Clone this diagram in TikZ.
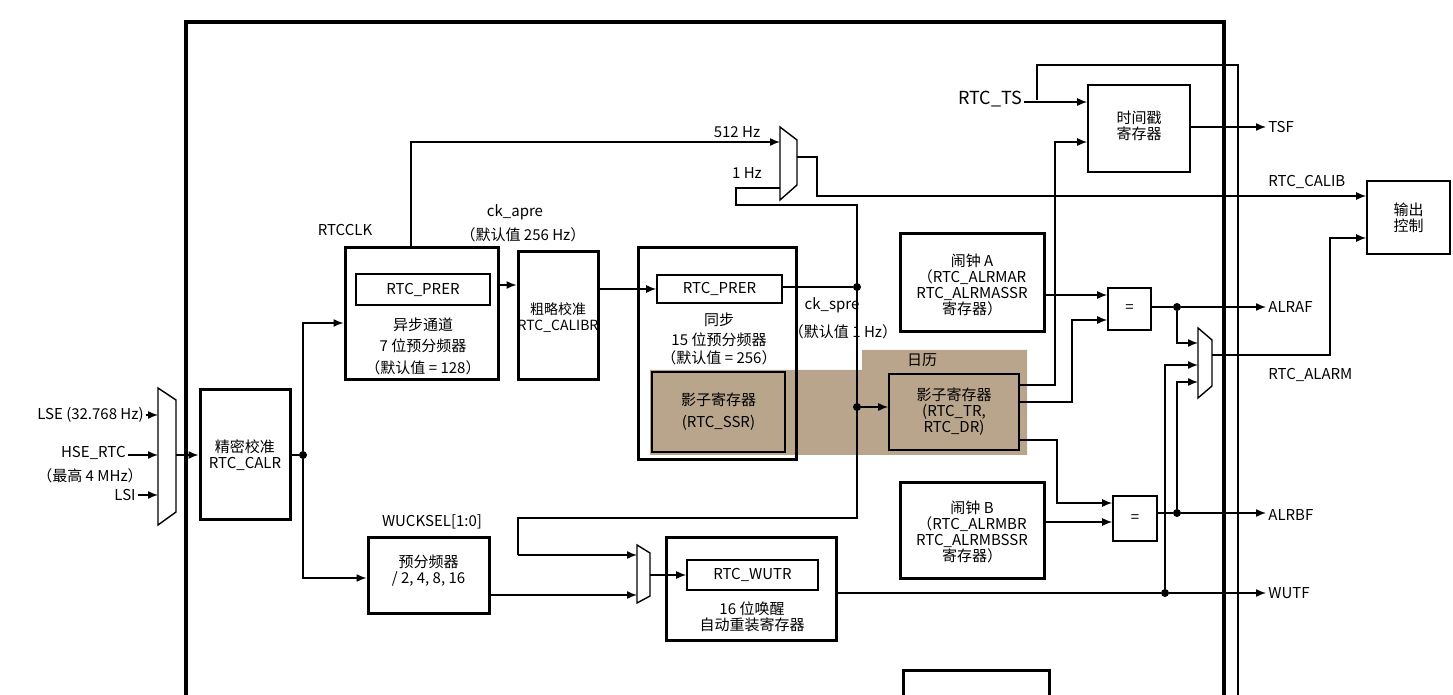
\documentclass[tikz,border=0pt]{standalone}
\usepackage{fontspec}
\setmainfont{Noto Sans CJK SC}
\usetikzlibrary{positioning}
\usetikzlibrary{arrows.meta}

\begin{document}
\begin{tikzpicture}[x=0.5pt, y=-0.5pt, font=\fontsize{7.5}{8}\selectfont]
  \tikzstyle{block}=[draw, line width=1.5pt, inner sep=0pt]
  \tikzstyle{reg}=[draw, line width=0.8pt, inner sep=0pt]
  \tikzstyle{txt}=[inner sep=1pt, align=center]
  \tikzstyle{connect}=[-{Latex[length=5pt,width=4pt]}, line width=0.7pt]
  \tikzstyle{wire}=[line width=0.7pt]
  \tikzstyle{dot}=[circle, fill, inner sep=0pt, minimum size=4pt]
  \definecolor{calshade}{RGB}{184,165,140}

  \useasboundingbox (0,0) rectangle (1453,695);
  \clip (0,0) rectangle (1453,695);

  % calendar shading
  \fill[calshade] (650,370) -- (862,370) -- (862,350) -- (1027,350) -- (1027,455) -- (650,455) -- cycle;

  % frame
  \draw[line width=2pt] (186,700) -- (186,22) -- (1224,22) -- (1224,700);
  \draw[wire] (1037,100) -- (1037,65) -- (1238,65) -- (1238,700);
  \draw[line width=1.5pt] (903,700) -- (903,670) -- (1049,670) -- (1049,700);

  % blocks
  \node[block, minimum width=45pt, minimum height=65pt] (calr) at (245,455) {};
  \node[block, minimum width=76.5pt, minimum height=66pt] (async) at (421.5,314) {};
  \node[reg, minimum width=67pt, minimum height=15.5pt] (aprer) at (423,289.5) {RTC\_PRER};
  \node[block, minimum width=40pt, minimum height=64pt] (coarse) at (558,316) {};
  \node[block, minimum width=79pt, minimum height=106pt] (sync) at (717,354) {};
  \node[reg, minimum width=62.5pt, minimum height=14pt] (sprer) at (719.5,289) {RTC\_PRER};
  \node[reg, fill=calshade, minimum width=66.5pt, minimum height=40pt] (ssr) at (718.5,412) {};
  \node[reg, minimum width=65pt, minimum height=38pt] (shadow) at (954,412) {};
  \node[reg, minimum width=51pt, minimum height=43.5pt] (tsreg) at (1139,128.5) {};
  \node[reg, minimum width=41.5pt, minimum height=36.5pt] (outctl) at (1408.5,217.5) {};
  \node[block, minimum width=72pt, minimum height=49pt] (alarma) at (972,283) {};
  \node[reg, minimum width=21.5pt, minimum height=21pt] (eqa) at (1129.5,309) {=};
  \node[block, minimum width=72pt, minimum height=47.5pt] (alarmb) at (972,530.5) {};
  \node[reg, minimum width=22pt, minimum height=22.5pt] (eqb) at (1135,518.5) {=};
  \node[block, minimum width=60.5pt, minimum height=37.5pt] (presc) at (428.5,575.5) {};
  \node[block, minimum width=85pt, minimum height=51pt] (wutr) at (751,589) {};
  \node[reg, minimum width=65.5pt, minimum height=15pt] (wutrreg) at (752.5,575) {RTC\_WUTR};

  % block texts
  \node[txt] (calrtxt) at (245,455) {精密校准\\RTC\_CALR};
  \foreach \y/\t in {325/异步通道, 346/7 位预分频器, 368/（默认值 = 128）}
    \node[txt] at (423,\y) {\t};
  \node[txt, font=\fontsize{7}{8}\selectfont] (coarsetxt) at (558,318) {粗略校准\\RTC\_CALIBR};
  \foreach \y/\t in {320/同步, 340/15 位预分频器, 358/（默认值 = 256）}
    \node[txt] at (719,\y) {\t};
  \node[txt] (ssrtxt) at (718.5,412) {影子寄存器\\[3pt](RTC\_SSR)};
  \node[txt] (shadowtxt) at (954,412) {影子寄存器\\(RTC\_TR,\\RTC\_DR)};
  \node[txt] (tstxt) at (1139,126) {时间戳\\寄存器};
  \node[txt] (outtxt) at (1408.5,218) {输出\\控制};
  \node[txt] (alarmatxt) at (972,285) {闹钟 A\\（RTC\_ALRMAR\\RTC\_ALRMASSR\\寄存器）};
  \node[txt] (alarmbtxt) at (972,532) {闹钟 B\\（RTC\_ALRMBR\\RTC\_ALRMBSSR\\寄存器）};
  \node[txt] (presctxt) at (428.5,571) {预分频器\\/ 2, 4, 8, 16};
  \node[txt] (wutrtxt) at (752,617) {16 位唤醒\\自动重装寄存器};

  % muxes
  \draw[wire] (158,388) -- (176,400) -- (176,512) -- (158,525) -- cycle;
  \draw[wire] (780,127) -- (797,140) -- (797,185) -- (780,200) -- cycle;
  \draw[wire] (637,545) -- (650,553) -- (650,596) -- (637,603) -- cycle;
  \draw[wire] (1198,328) -- (1212,340) -- (1212,386) -- (1198,398) -- cycle;

  % inputs
  \node[txt, anchor=east] (lse) at (146,415) {LSE (32.768 Hz)};
  \node[txt, anchor=east] (hse) at (128,453) {HSE\_RTC};
  \node[txt] (hsemax) at (90,476) {（最高 4 MHz）};
  \node[txt, anchor=east] (lsi) at (138,495) {LSI};
  \foreach \src/\y in {lse/415, hse/455, lsi/495}
    \draw[connect] (\src.east |- 0,\y) -- (158,\y);
  \draw[connect] (176,455) -- (calr.west |- 0,455);

  % labels
  \node[txt] (rtcclk) at (345,230) {RTCCLK};
  \node[txt] (ckapre) at (515,212) {ck\_apre};
  \node[txt] (ckapredef) at (523,235) {（默认值 256 Hz）};
  \node[txt] (f512) at (737,132) {512 Hz};
  \node[txt] (f1) at (747,173) {1 Hz};
  \node[txt] (ckspre) at (832,305) {ck\_spre};
  \node[txt] (cksprdef) at (843,332) {（默认值 1 Hz）};
  \node[txt] (rili) at (922,360) {日历};
  \node[txt] (wucksel) at (432,522) {WUCKSEL[1:0]};
  \node[txt, font=\fontsize{9}{10}\selectfont] (rtcts) at (990,99) {RTC\_TS};
  \node[txt, anchor=west] (tsf) at (1266,127) {TSF};
  \node[txt, anchor=west] (calib) at (1266,182) {RTC\_CALIB};
  \node[txt, anchor=west] (alraf) at (1266,307) {ALRAF};
  \node[txt, anchor=west] (alarm) at (1266,375) {RTC\_ALARM};
  \node[txt, anchor=west] (alrbf) at (1266,515) {ALRBF};
  \node[txt, anchor=west] (wutf) at (1266,593) {WUTF};

  % clock path
  \node[dot] (split) at (303,455) {};
  \draw[wire] (calr.east |- split) -- (split);
  \draw[connect] (split) |- (async.west |- 0,323);
  \draw[connect] (split) |- (presc.west |- 0,578);
  \draw[connect] (411,248) |- (780,142);
  \draw[connect] (async.east |- 0,285) -- (coarse.west |- 0,285);
  \draw[connect] (coarse.east |- 0,289) -- (sprer.west);
  \node[dot] (ckdot) at (857,287) {};
  \node[dot] (caldot) at (857,407) {};
  \draw[wire] (sprer.east |- ckdot) -- (ckdot);
  \draw[wire] (780,188) -- (736,188) -- (736,205) -- (857,205) -- (857,518) -- (518,518) -- (518,555);
  \draw[connect] (518,555) -- (637,555);
  \draw[connect] (caldot) -- (shadow.west |- caldot);
  \draw[connect] (797,157) -- (817,157) -- (817,196) -- (outctl.west |- 0,196);

  % wakeup path
  \draw[connect] (presc.east |- 0,595) -- (637,595);
  \draw[connect] (650,575) -- (wutrreg.west);

  % timestamp and alarms
  \draw[connect] (rtcts.east |- 0,102) -- (tsreg.west |- 0,102);
  \draw[connect] (shadow.east |- 0,385) -| (1055,142) -- (tsreg.west |- 0,142);
  \draw[connect] (shadow.east |- 0,402) -| (1072,320) -- (eqa.west |- 0,320);
  \draw[connect] (shadow.east |- 0,440) -| (1057,503) -- (eqb.west |- 0,503);
  \draw[connect] (alarma.east |- 0,295) -- (eqa.west |- 0,295);
  \draw[connect] (alarmb.east |- 0,522) -- (eqb.west |- 0,522);
  \draw[connect] (tsreg.east |- tsf) -- (tsf.west);

  \node[dot] (adot) at (1177,307) {};
  \node[dot] (bdot) at (1177,513) {};
  \node[dot] (wdot) at (1165,593) {};
  \draw[wire] (eqa.east |- adot) -- (adot);
  \draw[connect] (adot) -- (alraf.west);
  \draw[wire] (eqb.east |- bdot) -- (bdot);
  \draw[connect] (bdot) -- (alrbf.west |- bdot);
  \draw[wire] (wutr.east |- wdot) -- (wdot);
  \draw[connect] (wdot) -- (wutf.west);
  \draw[connect] (adot) |- (1198,343);
  \draw[connect] (wdot) |- (1198,365);
  \draw[connect] (bdot) |- (1198,382);
  \draw[connect] (1212,355) -| (1330,238) -- (outctl.west |- 0,238);
\end{tikzpicture}
\end{document}
